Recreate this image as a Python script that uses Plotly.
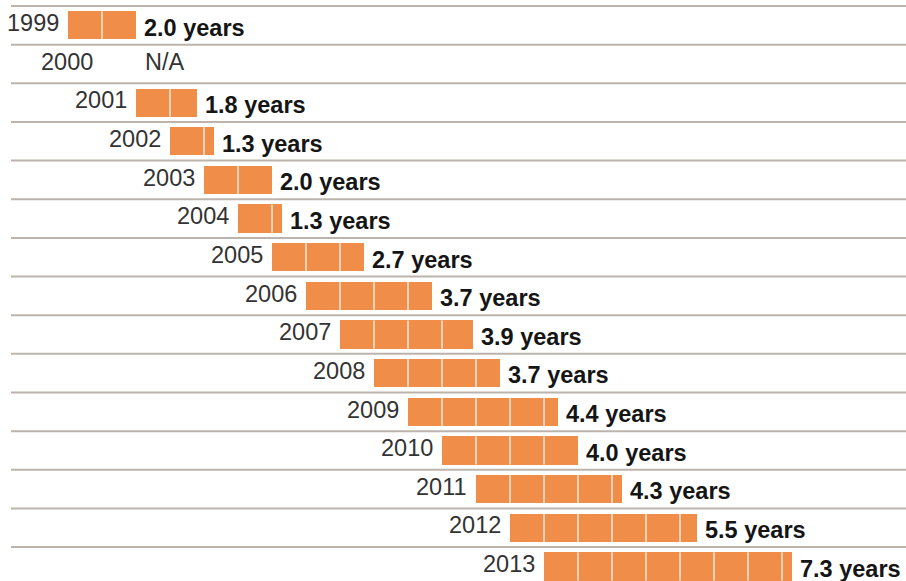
import plotly.graph_objects as go

years = [1999, 2000, 2001, 2002, 2003, 2004, 2005, 2006, 2007, 2008, 2009, 2010, 2011, 2012, 2013]
durations = [2.0, None, 1.8, 1.3, 2.0, 1.3, 2.7, 3.7, 3.9, 3.7, 4.4, 4.0, 4.3, 5.5, 7.3]
value_labels = ["2.0 years", "N/A", "1.8 years", "1.3 years", "2.0 years", "1.3 years", "2.7 years",
                "3.7 years", "3.9 years", "3.7 years", "4.4 years", "4.0 years", "4.3 years",
                "5.5 years", "7.3 years"]

ORANGE = "#F08D49"
GRID = "#BCB4AC"
UNIT_PX = 34.0
W, H = 906, 581
ROW_PX = 38.65
TOP_LINE_PX = 6.0
FS = 23.5

n = len(years)
rows = list(range(n))
starts = [y - 1997 for y in years]

fig = go.Figure()

# bars
bx, bbase, by = [], [], []
for i, (s, d) in enumerate(zip(starts, durations)):
    if d is not None:
        bx.append(d); bbase.append(s); by.append(i)
fig.add_trace(go.Bar(x=bx, base=bbase, y=by, orientation="h", width=0.73,
                     marker=dict(color=ORANGE, line=dict(width=0)), hoverinfo="skip",
                     showlegend=False))

# white unit dividers
dx, dy = [], []
for i, (s, d) in enumerate(zip(starts, durations)):
    if d is None:
        continue
    k = 1
    while k < d:
        dx += [s + k, s + k, None]
        dy += [i - 0.365, i + 0.365, None]
        k += 1
fig.add_trace(go.Scatter(x=dx, y=dy, mode="lines", line=dict(color="white", width=1.2),
                         hoverinfo="skip", showlegend=False))

# row separator lines
x0 = 11 / UNIT_PX
x1 = W / UNIT_PX
shapes = []
for i in rows:
    shapes.append(dict(type="line", x0=x0, x1=x1, y0=i - 0.5, y1=i - 0.5,
                       line=dict(color=GRID, width=2), layer="below"))

ann = []
for i, (y, s, d, lab) in enumerate(zip(years, starts, durations, value_labels)):
    ann.append(dict(x=s - 7 / UNIT_PX, y=i - 0.06, text=str(y), showarrow=False,
                    xanchor="right", yanchor="middle",
                    font=dict(family="Liberation Sans, Arial", size=FS, color="#333333")))
    if d is None:
        ann.append(dict(x=s + 41 / UNIT_PX, y=i - 0.06, text=lab, showarrow=False,
                        xanchor="left", yanchor="middle",
                        font=dict(family="Liberation Sans, Arial", size=FS, color="#333333")))
    else:
        ann.append(dict(x=s + d + 6 / UNIT_PX, y=i + 0.06, text="<b>" + lab + "</b>", showarrow=False,
                        xanchor="left", yanchor="middle",
                        font=dict(family="Liberation Sans, Arial", size=FS, color="#151515")))

y_top = (0 - (TOP_LINE_PX + ROW_PX * 0.5)) / ROW_PX
y_bot = (H - (TOP_LINE_PX + ROW_PX * 0.5)) / ROW_PX

fig.update_layout(
    width=W, height=H,
    margin=dict(l=0, r=0, t=0, b=0),
    paper_bgcolor="white", plot_bgcolor="white",
    xaxis=dict(range=[0, W / UNIT_PX], visible=False, fixedrange=True),
    yaxis=dict(range=[y_bot, y_top], visible=False, fixedrange=True),
    shapes=shapes, annotations=ann, bargap=0,
)

fig.write_html("out.html", config={"displayModeBar": False},
               post_script="document.body.style.margin='0';document.body.style.overflow='hidden';")
